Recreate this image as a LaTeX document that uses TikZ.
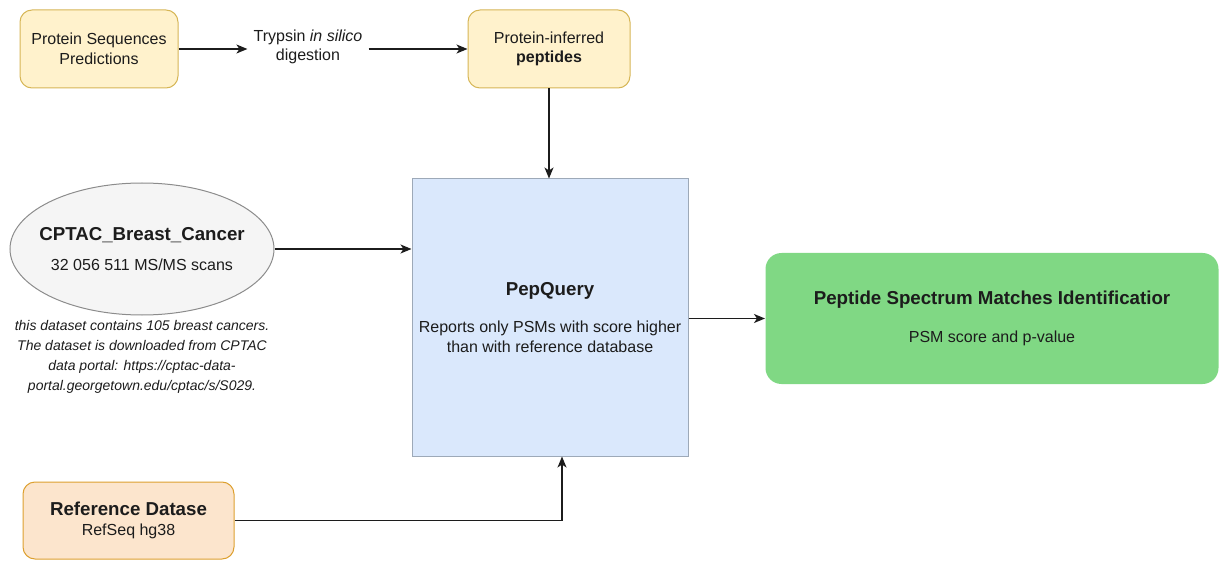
\documentclass[tikz,border=0pt]{standalone}
\usepackage{fontspec}
\setmainfont{Liberation Sans}
\usetikzlibrary{calc,positioning,arrows.meta,shapes.geometric}

\definecolor{yelfill}{HTML}{FFF2CC}
\definecolor{yelline}{HTML}{D6B656}
\definecolor{bluefill}{HTML}{DAE8FC}
\definecolor{blueline}{HTML}{9DA9B8}
\definecolor{greenfill}{HTML}{80D884}
\definecolor{peachfill}{HTML}{FCE5CD}
\definecolor{peachline}{HTML}{DDA030}
\definecolor{greyfill}{HTML}{F5F5F5}
\definecolor{greyline}{HTML}{8C8C8C}
\definecolor{ink}{HTML}{1C1C1C}

\newcommand{\hd}{\bfseries\fontsize{18.7}{22}\selectfont}
\newcommand{\tx}{\fontsize{16}{19.5}\selectfont}

\begin{document}
\begin{tikzpicture}[
    x=1pt, y=-1pt, font=\tx, text=ink,
    every node/.style={align=center},
    box/.style={rounded corners=12pt, line width=1pt},
    yelbox/.style={box, draw=yelline, fill=yelfill,
      minimum width=158pt, minimum height=78pt},
    arr/.style={draw=ink, line width=1.4pt,
      -{Stealth[length=11pt, width=9pt, inset=3pt]}}]

    \useasboundingbox (0,0) rectangle (1220,561);

    % vertices

    \node[yelbox] (seq) at (99,49) {Protein Sequences\\Predictions};
    \node[inner sep=6pt] (dig) at (308,47) {Trypsin \textit{in silico}\\digestion};
    \node[yelbox, minimum width=162pt] (inf) at (549,49)
      {Protein-inferred\\\textbf{peptides}};

    \node[ellipse, draw=greyline, fill=greyfill, line width=1pt,
      minimum width=264pt, minimum height=132pt,
      inner xsep=-10pt, inner ysep=0pt] (cptac) at (142,249)
      {{\hd CPTAC\_Breast\_Cancer}\\[10pt]32 056 511 MS/MS scans};
    \node[font=\itshape\fontsize{14}{20}\selectfont] (note) at (142,357)
      {this dataset contains 105 breast cancers.\\The dataset is downloaded from CPTAC\\
       data portal: https://cptac-data-\\portal.georgetown.edu/cptac/s/S029.};

    \node[draw=blueline, fill=bluefill, line width=1pt,
      minimum width=276pt, minimum height=277pt] (pep) at (550,317.5)
      {{\hd PepQuery}\\[18pt]Reports only PSMs with score higher\\than with reference database};

    \node[box, rounded corners=16pt, fill=greenfill,
      minimum width=453pt, minimum height=131pt] (psm) at (992,318.5)
      {{\hd Peptide Spectrum Matches Identificatior}\\[18pt]PSM score and p-value};

    \node[box, draw=peachline, fill=peachfill,
      minimum width=211pt, minimum height=77pt] (ref) at (128.5,520.5)
      {{\hd Reference Datase}\\[1pt]RefSeq hg38};

    % edges

    \draw[arr] (seq) to (seq -| dig.west);
    \draw[arr] (dig.east |- inf) to (inf);
    \draw[arr] (inf) to (inf |- pep.north);
    \draw[arr] (cptac.east) to (cptac.east -| pep.west);
    \draw[arr] (pep.east |- psm) to (psm);
    \draw[arr] (ref.east) -| ($(pep.south)+(12,0)$);
  \end{tikzpicture}
\end{document}
